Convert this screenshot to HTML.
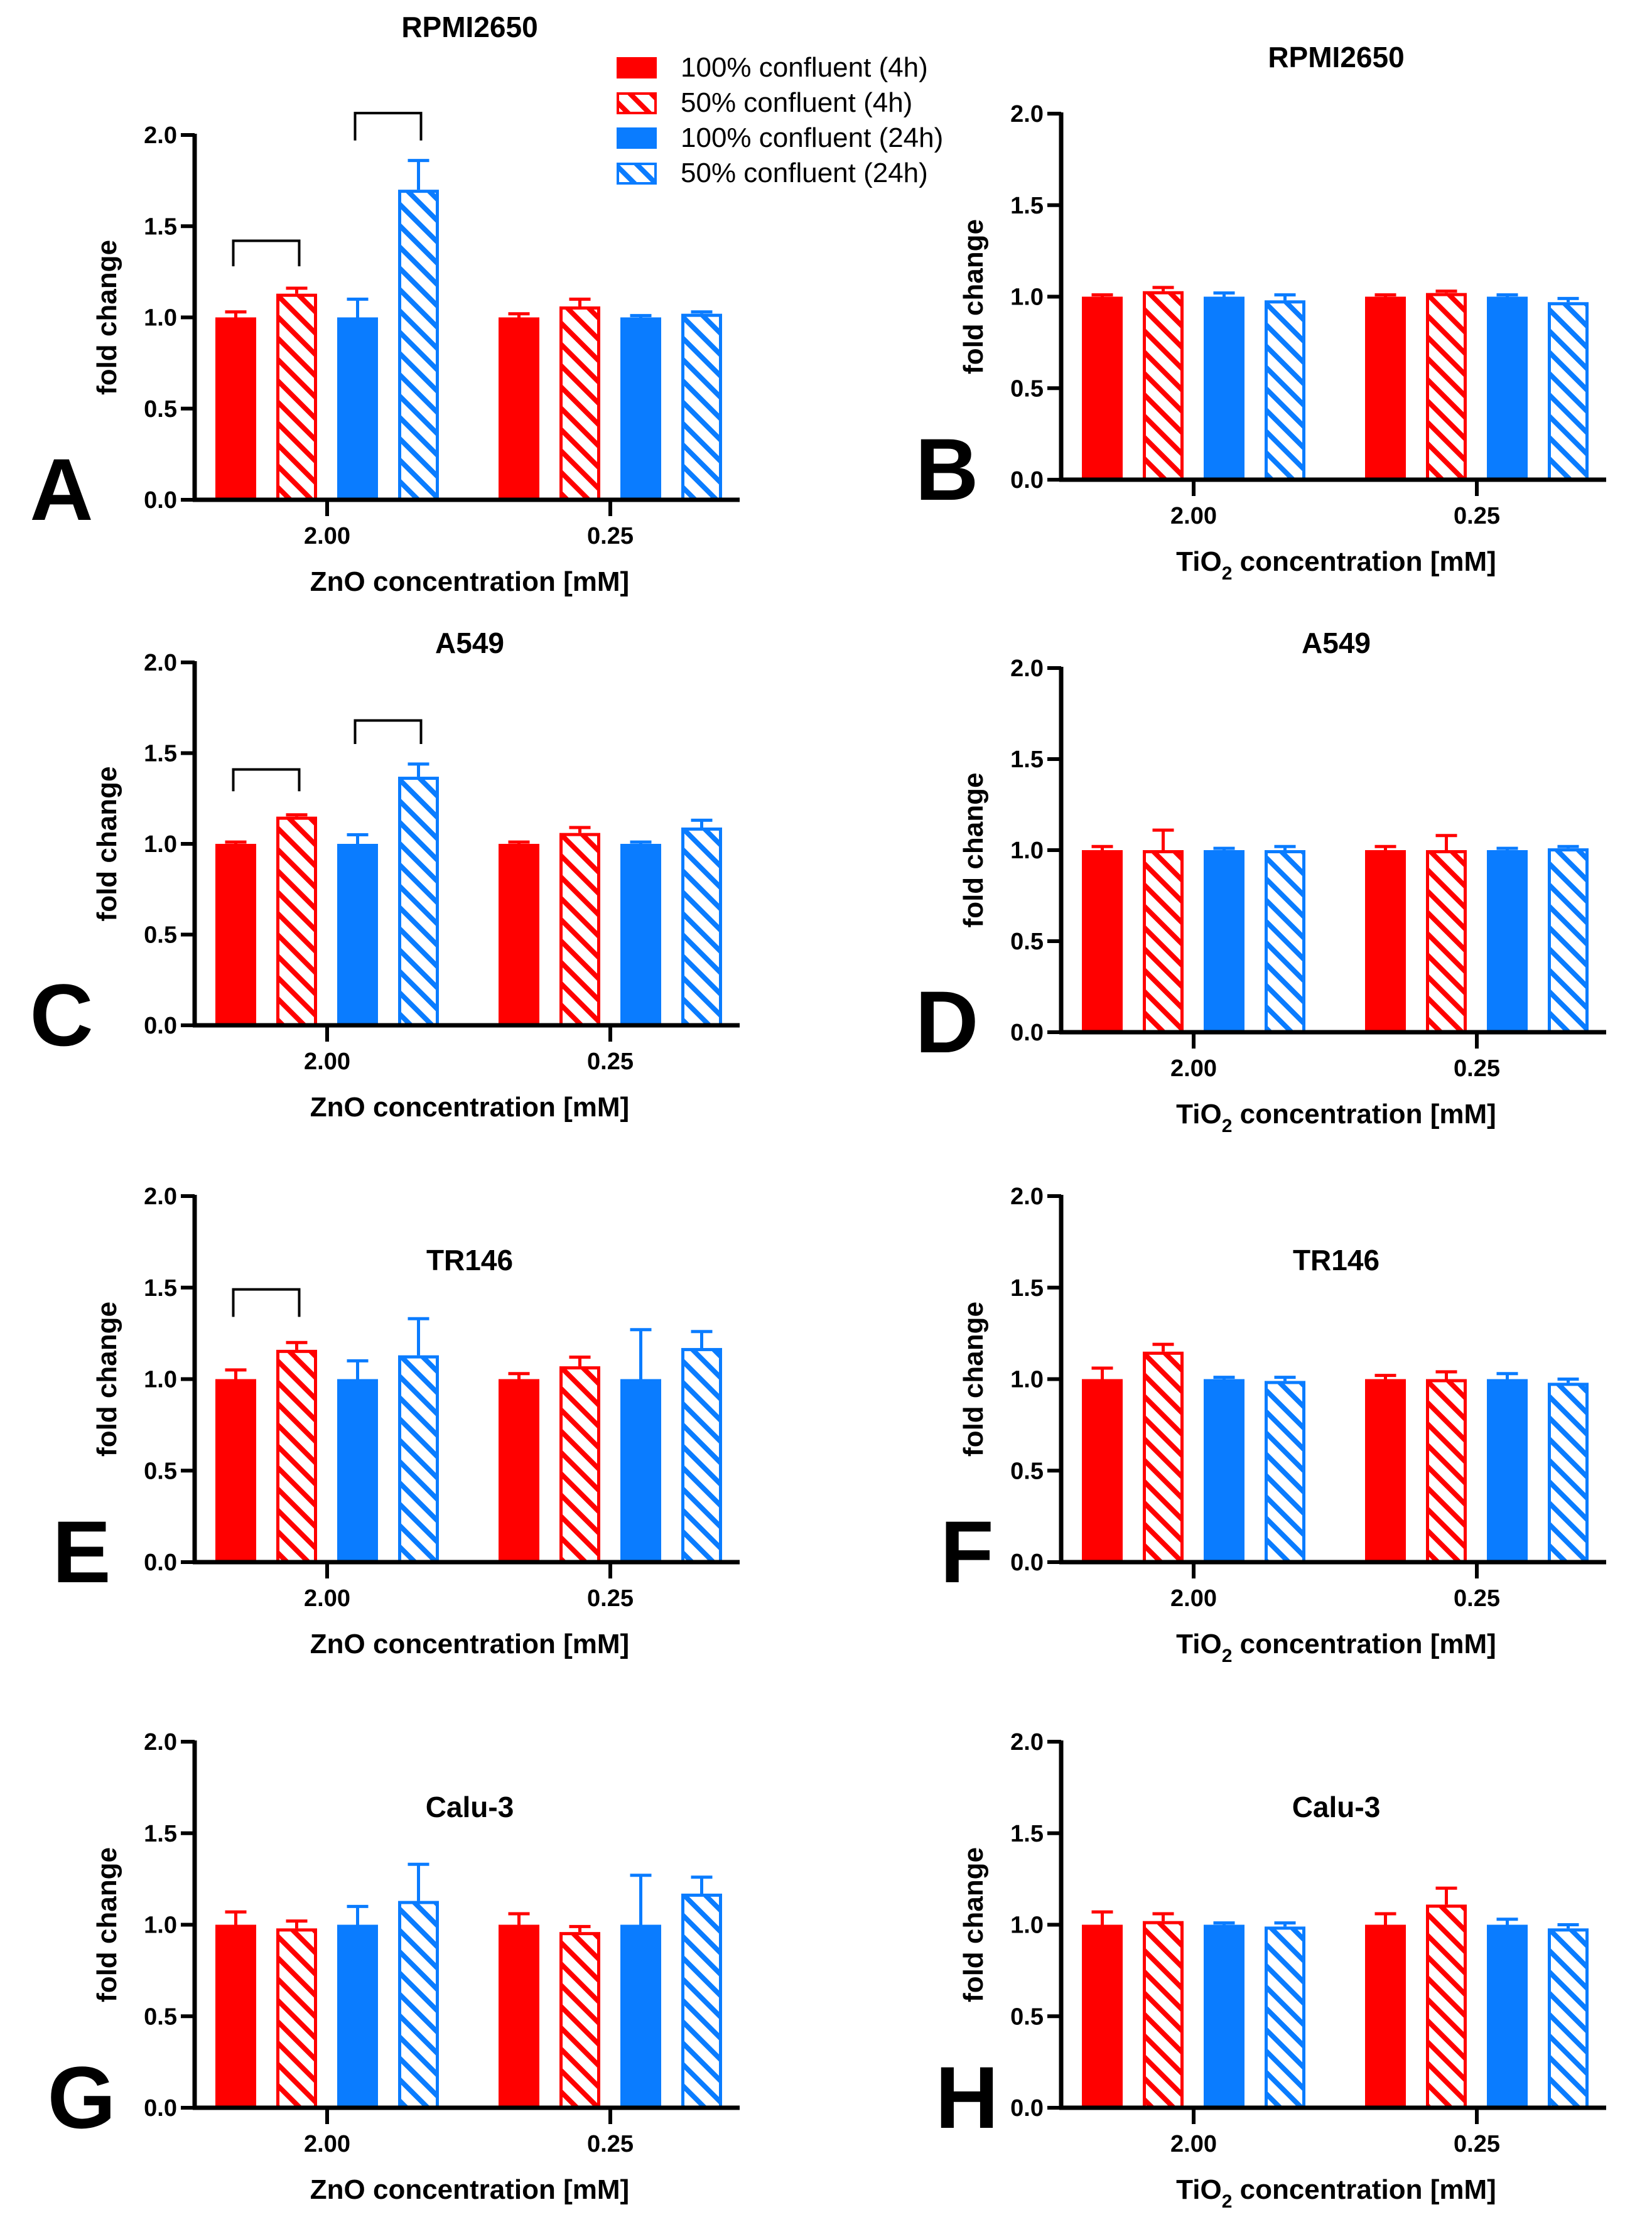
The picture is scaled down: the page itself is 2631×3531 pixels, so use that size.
<!DOCTYPE html>
<html><head><meta charset="utf-8"><title>Fold change panels</title>
<style>
html,body{margin:0;padding:0;background:#fff;}
svg{display:block;font-family:"Liberation Sans",Arial,sans-serif;}
</style></head>
<body>
<svg id="fig" width="2631" height="3531" viewBox="0 0 2631 3531" xmlns="http://www.w3.org/2000/svg">
<defs>
<pattern id="hatchRed" patternUnits="userSpaceOnUse" width="24" height="24" patternTransform="rotate(-45)">
<rect width="24" height="24" fill="#fff"/><rect x="0" y="0" width="8" height="24" fill="#ff0000"/>
</pattern>
<pattern id="hatchBlue" patternUnits="userSpaceOnUse" width="24" height="24" patternTransform="rotate(-45)">
<rect width="24" height="24" fill="#fff"/><rect x="0" y="0" width="8" height="24" fill="#0a7cff"/>
</pattern>
</defs>
<g id="legend">
<rect x="982" y="91" width="64" height="34" fill="#ff0000"/>
<text x="1084" y="122" font-size="44">100% confluent (4h)</text>
<rect x="984" y="149" width="60" height="31" fill="url(#hatchRed)" stroke="#ff0000" stroke-width="4"/>
<text x="1084" y="178" font-size="44">50% confluent (4h)</text>
<rect x="982" y="203" width="64" height="34" fill="#0a7cff"/>
<text x="1084" y="234" font-size="44">100% confluent (24h)</text>
<rect x="984" y="261" width="60" height="31" fill="url(#hatchBlue)" stroke="#0a7cff" stroke-width="4"/>
<text x="1084" y="290" font-size="44">50% confluent (24h)</text>
</g>
</svg>
<script>
const categories = ["2.00", "0.25"];
const yTicks = ["0.0", "0.5", "1.0", "1.5", "2.0"];
const meansA = [1.0, 1.13, 1.0, 1.70, 1.0, 1.06, 1.0, 1.02];
const errsA  = [0.03, 0.03, 0.10, 0.16, 0.02, 0.04, 0.01, 0.01];
const meansB = [1.0, 1.03, 1.0, 0.98, 1.0, 1.02, 1.0, 0.97];
const errsB  = [0.01, 0.02, 0.02, 0.03, 0.01, 0.01, 0.01, 0.02];
const meansC = [1.0, 1.15, 1.0, 1.37, 1.0, 1.06, 1.0, 1.09];
const errsC  = [0.01, 0.01, 0.05, 0.07, 0.01, 0.03, 0.01, 0.04];
const meansD = [1.0, 1.0, 1.0, 1.0, 1.0, 1.0, 1.0, 1.01];
const errsD  = [0.02, 0.11, 0.01, 0.02, 0.02, 0.08, 0.01, 0.01];
const meansE = [1.0, 1.16, 1.0, 1.13, 1.0, 1.07, 1.0, 1.17];
const errsE  = [0.05, 0.04, 0.10, 0.20, 0.03, 0.05, 0.27, 0.09];
const meansF = [1.0, 1.15, 1.0, 0.99, 1.0, 1.0, 1.0, 0.98];
const errsF  = [0.06, 0.04, 0.01, 0.02, 0.02, 0.04, 0.03, 0.02];
const meansG = [1.0, 0.98, 1.0, 1.13, 1.0, 0.96, 1.0, 1.17];
const errsG  = [0.07, 0.04, 0.10, 0.20, 0.06, 0.03, 0.27, 0.09];
const meansH = [1.0, 1.02, 1.0, 0.99, 1.0, 1.11, 1.0, 0.98];
const errsH  = [0.07, 0.04, 0.01, 0.02, 0.06, 0.09, 0.03, 0.02];
const bracketsA = [[0, 1, 1.42, 1.28], [2, 3, 2.12, 1.97]];
const bracketsC = [[0, 1, 1.41, 1.29], [2, 3, 1.68, 1.55]];
const bracketsE = [[0, 1, 1.49, 1.34]];

const NS = "http://www.w3.org/2000/svg";
const svg = document.getElementById("fig");
function mk(tag, attrs, parent){
  const e = document.createElementNS(NS, tag);
  for (const k in attrs) e.setAttribute(k, attrs[k]);
  (parent||svg).appendChild(e);
  return e;
}
const fills = ["#ff0000", "url(#hatchRed)", "#0a7cff", "url(#hatchBlue)"];
const strokes = ["#ff0000", "#ff0000", "#0a7cff", "#0a7cff"];
const barNames = ["100-4h", "50-4h", "100-24h", "50-24h"];

function panel(p){
  const g = mk("g", {});
  
  
  const ax = p.ax, y0 = p.y0, unit = (p.y0 - p.yTop) / 2, axEnd = ax + 868;
  const yS = v => y0 - v * unit;
  const barX = i => ax + 33 + (i % 4) * 97 + (i >= 4 ? 451 : 0);
  const bw = 65;
  for (let i = 0; i < p.means.length; i++){
    const k = i % 4, x = barX(i), top = yS(p.means[i]);
    const hatched = (k === 1 || k === 3);
    const r = mk("rect", {x: hatched ? x + 2.5 : x, y: hatched ? top + 2.5 : top, width: hatched ? bw - 5 : bw, height: Math.max(0, y0 - top - (hatched ? 2.5 : 0)), fill: fills[k], stroke: hatched ? strokes[k] : "none", "stroke-width": 5}, g);
    
    
    const cx = x + bw / 2, et = yS(p.means[i] + p.errs[i]);
    const eb = mk("path", {d: "M" + cx + " " + top + "V" + et + "M" + (cx - 17) + " " + et + "H" + (cx + 17), stroke: strokes[k], "stroke-width": 5, fill: "none"}, g);
    
    
  }
  (p.brackets || []).forEach(b => {
    const x1 = barX(b[0]) + bw / 2 - 4, x2 = barX(b[1]) + bw / 2 + 4;
    const br = mk("path", {d: "M" + x1 + " " + yS(b[3]) + "V" + yS(b[2]) + "H" + x2 + "V" + yS(b[3]), stroke: "#000", "stroke-width": 4, fill: "none"}, g);
    
    
  });
  const yAxis = mk("path", {d: "M" + ax + " " + (yS(2) - 2) + "V" + (y0 + 3), stroke: "#000", "stroke-width": 7, fill: "none"}, g);
  
  
  const xAxis = mk("path", {d: "M" + (ax - 3) + " " + y0 + "H" + axEnd, stroke: "#000", "stroke-width": 7, fill: "none"}, g);
  
  
  yTicks.forEach((t, j) => {
    const v = parseFloat(t), y = yS(v);
    mk("path", {d: "M" + (ax - 22) + " " + y + "H" + ax, stroke: "#000", "stroke-width": 6}, g);
    const tl = mk("text", {x: ax - 28, y: y + 13, "font-size": 38, "font-weight": "bold", "text-anchor": "end"}, g);
    tl.textContent = t;
    
    
  });
  categories.forEach((c, j) => {
    const cx = (barX(j * 4 + 1) + bw + barX(j * 4 + 2)) / 2;
    mk("path", {d: "M" + cx + " " + y0 + "V" + (y0 + 26), stroke: "#000", "stroke-width": 6}, g);
    const tl = mk("text", {x: cx, y: y0 + 70, "font-size": 38, "font-weight": "bold", "text-anchor": "middle"}, g);
    tl.textContent = c;
    
    
  });
  const xt = mk("text", {x: ax + 438, y: y0 + 145, "font-size": 44, "font-weight": "bold", "text-anchor": "middle"}, g);
  
  
  if (p.tio2){
    xt.innerHTML = 'TiO<tspan font-size="30" dy="14">2</tspan><tspan dy="-14"> concentration [mM]</tspan>';
  } else {
    xt.textContent = "ZnO concentration [mM]";
  }
  const ycy = (yS(2) + y0) / 2;
  const yt = mk("text", {x: 0, y: 0, "font-size": 44, "font-weight": "bold", "text-anchor": "middle", transform: "translate(" + (ax - 125) + "," + ycy + ") rotate(-90)"}, g);
  yt.textContent = "fold change";
  
  
  const tt = mk("text", {x: ax + 438, y: p.titleY, "font-size": 46, "font-weight": "bold", "text-anchor": "middle"}, g);
  tt.textContent = p.title;
  
  
  const pl = mk("text", {x: p.lx, y: y0 + 32, "font-size": 140, "font-weight": "bold", "text-anchor": "middle"}, g);
  pl.textContent = p.letter;
  
  
}

panel({letter:"A", ax:310, y0:796, yTop:215, means:meansA, errs:errsA, brackets:bracketsA, title:"RPMI2650", titleY:59, lx:98, tio2:false});
panel({letter:"B", ax:1690, y0:764, yTop:181, means:meansB, errs:errsB, title:"RPMI2650", titleY:107, lx:1508, tio2:true});
panel({letter:"C", ax:310, y0:1633, yTop:1055, means:meansC, errs:errsC, brackets:bracketsC, title:"A549", titleY:1040, lx:98, tio2:false});
panel({letter:"D", ax:1690, y0:1644, yTop:1064, means:meansD, errs:errsD, title:"A549", titleY:1040, lx:1508, tio2:true});
panel({letter:"E", ax:310, y0:2488, yTop:1905, means:meansE, errs:errsE, brackets:bracketsE, title:"TR146", titleY:2023, lx:130, tio2:false});
panel({letter:"F", ax:1690, y0:2488, yTop:1905, means:meansF, errs:errsF, title:"TR146", titleY:2023, lx:1540, tio2:true});
panel({letter:"G", ax:310, y0:3357, yTop:2774, means:meansG, errs:errsG, title:"Calu-3", titleY:2894, lx:130, tio2:false});
panel({letter:"H", ax:1690, y0:3357, yTop:2774, means:meansH, errs:errsH, title:"Calu-3", titleY:2894, lx:1540, tio2:true});
</script>
</body></html>
